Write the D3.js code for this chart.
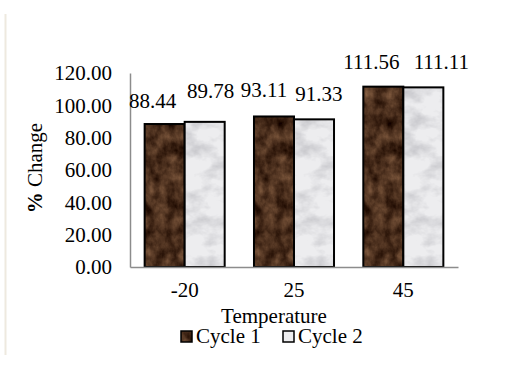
<!DOCTYPE html>
<html>
<head>
<meta charset="utf-8">
<script src="https://cdn.jsdelivr.net/npm/d3@7"></script>
<style>
  html, body { margin: 0; padding: 0; background: #fff; }
  svg { display: block; }
  text { font-family: "Liberation Serif", "Times New Roman", serif; fill: #000; }
</style>
</head>
<body>
<svg id="chart" width="521" height="369"></svg>
<script>
// ---- data ----
const categories = ["-20", "25", "45"];
const seriesNames = ["Cycle 1", "Cycle 2"];
const cycle1 = [88.44, 93.11, 111.56];
const cycle2 = [89.78, 91.33, 111.11];
const yTicks = [0, 20, 40, 60, 80, 100, 120];
const xTitle = "Temperature";
const yTitle = "Change";

// ---- layout (not data) ----
const plot = { left: 130, right: 458, top: 73, bottom: 267 };
const fontSize = 21;
// small manual nudges of data labels (as in the source chart)
const labelNudge = [[[-12, 2], [6, -6]], [[-10, -1], [5, 0]], [[-12, 0], [18, 0]]];

const svg = d3.select("#chart");

// textures
const defs = svg.append("defs");
const bf = defs.append("filter").attr("id", "brownTex")
  .attr("color-interpolation-filters", "sRGB");
bf.append("feTurbulence").attr("type", "fractalNoise")
  .attr("baseFrequency", "0.09 0.07").attr("numOctaves", 4).attr("seed", 3).attr("result", "n");
bf.append("feColorMatrix").attr("in", "n").attr("type", "matrix")
  .attr("values", "0.55 0 0 0 0.02  0.45 0 0 0 -0.04  0.35 0 0 0 -0.06  0 0 0 0 1").attr("result", "c");
bf.append("feComposite").attr("in", "c").attr("in2", "SourceGraphic").attr("operator", "in");

const wf = defs.append("filter").attr("id", "whiteTex")
  .attr("color-interpolation-filters", "sRGB");
wf.append("feTurbulence").attr("type", "fractalNoise")
  .attr("baseFrequency", "0.05 0.07").attr("numOctaves", 4).attr("seed", 11).attr("result", "n");
wf.append("feColorMatrix").attr("in", "n").attr("type", "matrix")
  .attr("values", "0 0 0 0 0.74  0 0 0 0 0.74  0 0 0 0 0.76  -1.6 0 0 0 0.95").attr("result", "veins");
wf.append("feFlood").attr("flood-color", "#ededef").attr("result", "bg");
wf.append("feComposite").attr("in", "veins").attr("in2", "bg").attr("operator", "over").attr("result", "m");
wf.append("feComposite").attr("in", "m").attr("in2", "SourceGraphic").attr("operator", "in");
const texIds = ["brownTex", "whiteTex"];
const baseFill = ["#4a3221", "#ededef"];

// left page border line
svg.append("line").attr("x1", 5.5).attr("x2", 5.5).attr("y1", 14).attr("y2", 355)
  .attr("stroke", "#eee9df").attr("stroke-width", 2);

// scales
const x0 = d3.scaleBand().domain(categories).range([plot.left, plot.right])
  .paddingInner(0.268).paddingOuter(0.134);
const x1 = d3.scaleBand().domain(seriesNames).range([0, x0.bandwidth()]).padding(0);
const y = d3.scaleLinear().domain([0, 120]).range([plot.bottom, plot.top]);

const rows = categories.map((c, i) => ({ cat: c, i, vals: [cycle1[i], cycle2[i]] }));

// y axis
const yAxis = d3.axisLeft(y).tickValues(yTicks).tickSize(0).tickPadding(18)
  .tickFormat(d3.format(".2f"));
const gy = svg.append("g").attr("transform", `translate(${plot.left},0)`).call(yAxis);
gy.select(".domain").attr("stroke", "#8c8c8c").attr("stroke-width", 1.5);
gy.selectAll("text").attr("font-size", fontSize).attr("font-family", "Liberation Serif").attr("fill", "#000");

// bars
const groups = svg.append("g").selectAll("g").data(rows).join("g")
  .attr("transform", d => `translate(${x0(d.cat)},0)`);
groups.each(function (d) {
  const g = d3.select(this);
  d.vals.forEach((v, s) => {
    const bx = x1(seriesNames[s]), bw = x1.bandwidth();
    g.append("rect").attr("x", bx).attr("y", y(v)).attr("width", bw).attr("height", y(0) - y(v))
      .attr("fill", baseFill[s]);
    g.append("rect").attr("x", bx).attr("y", y(v)).attr("width", bw).attr("height", y(0) - y(v))
      .attr("fill", "#000").attr("filter", `url(#${texIds[s]})`);
    g.append("rect").attr("x", bx).attr("y", y(v)).attr("width", bw).attr("height", y(0) - y(v))
      .attr("fill", "none").attr("stroke", "#000").attr("stroke-width", 2);
  });
});

// x axis baseline
const xAxis = d3.axisBottom(x0).tickSize(0).tickPadding(15);
const gx = svg.append("g").attr("transform", `translate(0,${plot.bottom})`).call(xAxis);
gx.select(".domain").attr("stroke", "#8c8c8c").attr("stroke-width", 1.5);
gx.selectAll("text").attr("font-size", fontSize).attr("font-family", "Liberation Serif").attr("fill", "#000");

// data labels
groups.each(function (d) {
  const g = d3.select(this);
  d.vals.forEach((v, s) => {
    const nd = labelNudge[d.i][s];
    g.append("text")
      .attr("x", x1(seriesNames[s]) + x1.bandwidth() / 2 + nd[0])
      .attr("y", y(v) - 18 + nd[1])
      .attr("text-anchor", "middle").attr("font-size", fontSize)
      .text(d3.format(".2f")(v));
  });
});

// axis titles
svg.append("text").attr("x", 274).attr("y", 323).attr("text-anchor", "middle")
  .attr("font-size", fontSize).text(xTitle);
const yt = svg.append("text").attr("transform", `translate(42,168) rotate(-90)`)
  .attr("text-anchor", "middle").attr("font-size", fontSize);
yt.append("tspan").attr("font-weight", "bold").text("%");
yt.append("tspan").text(" " + yTitle);

// legend
const legend = svg.append("g").attr("transform", "translate(181,331)");
const legX = [0, 102];
seriesNames.forEach((name, s) => {
  const lg = legend.append("g").attr("transform", `translate(${legX[s]},0)`);
  lg.append("rect").attr("width", 11).attr("height", 11).attr("fill", baseFill[s]);
  lg.append("rect").attr("width", 11).attr("height", 11).attr("fill", "#000").attr("filter", `url(#${texIds[s]})`);
  lg.append("rect").attr("width", 11).attr("height", 11).attr("fill", "none")
    .attr("stroke", "#000").attr("stroke-width", 1.5);
  lg.append("text").attr("x", 15).attr("y", 12).attr("font-size", fontSize).text(name);
});
</script>
</body>
</html>
